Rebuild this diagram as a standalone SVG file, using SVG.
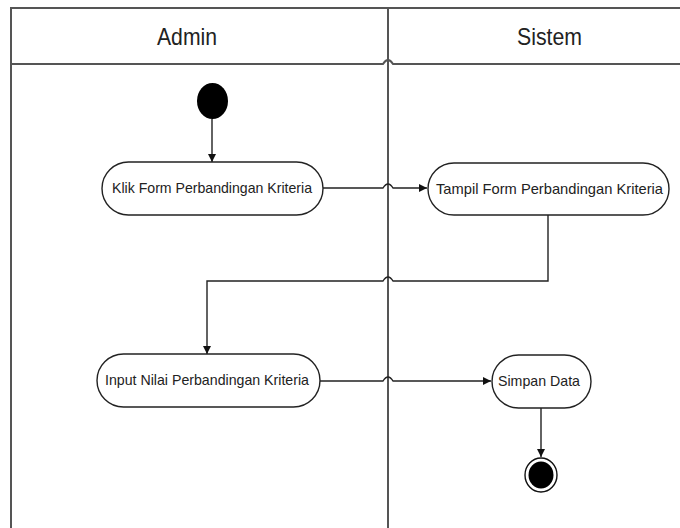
<svg xmlns="http://www.w3.org/2000/svg" width="680" height="528" viewBox="0 0 680 528">
<defs>
<style>
.frame{fill:none;stroke:#555;stroke-width:2}
.conn{fill:none;stroke:#222;stroke-width:1.4}
.node{fill:#fff;stroke:#222;stroke-width:1.4}
.lbl{font-family:"Liberation Sans",Arial,sans-serif;font-size:15px;fill:#222}
.hdr{font-family:"Liberation Sans",Arial,sans-serif;font-size:24px;fill:#222}
</style>
<marker id="arr" markerWidth="10" markerHeight="10" refX="9" refY="5" orient="auto" markerUnits="userSpaceOnUse">
<path d="M1,1 L9,5 L1,9 Z" fill="#111"/>
</marker>
</defs>
<rect width="680" height="528" fill="#fff"/>
<g id="lanes">
<path class="frame" d="M11,528 V8 H690"/>
<path class="frame" d="M11,64 H383 Q388,56 393,64 H690"/>
<path class="frame" d="M388,8 V528"/>
<text class="hdr" x="157" y="45" textLength="60" lengthAdjust="spacingAndGlyphs">Admin</text>
<text class="hdr" x="517" y="45" textLength="65" lengthAdjust="spacingAndGlyphs">Sistem</text>
</g>
<g id="connectors">
<path class="conn" d="M212,119 V162" marker-end="url(#arr)"/>
<path class="conn" d="M323,188 H383 Q388,180 393,188 H427" marker-end="url(#arr)"/>
<path class="conn" d="M548,215 V281 H393 Q388,273 383,281 H207 V354" marker-end="url(#arr)"/>
<path class="conn" d="M320,381 H383 Q388,373 393,381 H491" marker-end="url(#arr)"/>
<path class="conn" d="M541,408 V457" marker-end="url(#arr)"/>
</g>
<g id="start">
<ellipse cx="212.5" cy="101" rx="15.5" ry="18" fill="#000"/>
</g>
<g id="klik-form">
<rect class="node" x="102" y="162" width="221" height="53" rx="26.5" ry="26.5"/>
<text class="lbl" x="112" y="193" textLength="200" lengthAdjust="spacingAndGlyphs">Klik Form Perbandingan Kriteria</text>
</g>
<g id="tampil-form">
<rect class="node" x="428" y="163" width="241" height="52" rx="26" ry="26"/>
<text class="lbl" x="436" y="194" textLength="227" lengthAdjust="spacingAndGlyphs">Tampil Form Perbandingan Kriteria</text>
</g>
<g id="input-nilai">
<rect class="node" x="97" y="354" width="223" height="53" rx="26.5" ry="26.5"/>
<text class="lbl" x="105" y="385" textLength="204" lengthAdjust="spacingAndGlyphs">Input Nilai Perbandingan Kriteria</text>
</g>
<g id="simpan-data">
<rect class="node" x="492" y="355" width="99" height="53" rx="26.5" ry="26.5"/>
<text class="lbl" x="498" y="386" textLength="82" lengthAdjust="spacingAndGlyphs">Simpan Data</text>
</g>
<g id="end">
<ellipse cx="541" cy="475" rx="16" ry="17" fill="#fff" stroke="#111" stroke-width="1.4"/>
<ellipse cx="541" cy="475" rx="12.5" ry="13.5" fill="#000"/>
</g>
</svg>
